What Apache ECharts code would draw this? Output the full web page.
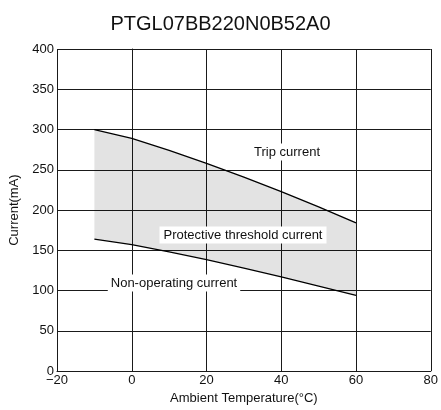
<!DOCTYPE html>
<html>
<head>
<meta charset="utf-8">
<script src="https://cdn.jsdelivr.net/npm/echarts@6/dist/echarts.min.js"></script>
<style>html,body{margin:0;padding:0;background:#fff}#c{width:441px;height:410px}</style>
</head>
<body>
<div id="c"></div>
<script>
var title = 'PTGL07BB220N0B52A0';
var temps = [-10, 0, 10, 20, 30, 40, 50, 60];
var tripCurrent = [300, 289, 274, 258, 241, 223, 204, 184];
var nonOperating = [164, 157, 148, 138.5, 128, 117, 105.5, 94];
var xTicks = [-20, 0, 20, 40, 60, 80];
var yTicks = [0, 50, 100, 150, 200, 250, 300, 350, 400];
var labelTrip = 'Trip current';
var labelBand = 'Protective threshold current';
var labelNon = 'Non-operating current';

var FONT = '"Liberation Sans", Arial, sans-serif';
var chart = echarts.init(document.getElementById('c'), null, {renderer: 'canvas'});

var nonData = temps.map(function (t, i) { return [t, nonOperating[i]]; });
var tripData = temps.map(function (t, i) { return [t, tripCurrent[i]]; });

var gridColor = '#1a1a1a';
chart.setOption({
  animation: false,
  title: {
    text: title, left: 'center', top: 9,
    textStyle: {fontFamily: FONT, fontSize: 20, fontWeight: 'normal', color: '#111'}
  },
  grid: {left: 57, right: 7, top: 49, bottom: 31},
  xAxis: {
    type: 'value', min: xTicks[0], max: xTicks[xTicks.length - 1], interval: 20,
    name: 'Ambient Temperature(°C)', nameLocation: 'middle', nameGap: 17,
    nameTextStyle: {fontFamily: FONT, fontSize: 13, color: '#111'},
    axisLine: {show: true, lineStyle: {color: gridColor, width: 1}},
    axisTick: {show: false},
    axisLabel: {fontFamily: FONT, fontSize: 13, color: '#111', margin: 3,
      formatter: function (v) { return String(v).replace('-', '\u2212'); }},
    splitLine: {show: true, lineStyle: {color: gridColor, width: 1}}
  },
  yAxis: {
    type: 'value', min: yTicks[0], max: yTicks[yTicks.length - 1], interval: 50,
    name: 'Current(mA)', nameLocation: 'middle', nameGap: 36,
    nameTextStyle: {fontFamily: FONT, fontSize: 13, color: '#111'},
    axisLine: {show: true, lineStyle: {color: gridColor, width: 1}},
    axisTick: {show: false},
    axisLabel: {fontFamily: FONT, fontSize: 13, color: '#111', margin: 3},
    splitLine: {show: true, lineStyle: {color: gridColor, width: 1}}
  },
  series: [
    {
      type: 'custom', name: 'band', data: [0], z: 1, silent: true,
      renderItem: function (params, api) {
        var pts = [];
        for (var i = 0; i < temps.length; i++) pts.push(api.coord([temps[i], tripCurrent[i]]));
        for (var j = temps.length - 1; j >= 0; j--) pts.push(api.coord([temps[j], nonOperating[j]]));
        return {type: 'polygon', shape: {points: pts}, style: {fill: 'rgba(0,0,0,0.11)'}};
      }
    },
    {
      type: 'line', name: 'Non-operating current', data: nonData,
      symbol: 'none', lineStyle: {color: '#000', width: 1.3}, z: 3
    },
    {
      type: 'line', name: 'Trip current', data: tripData,
      symbol: 'none', lineStyle: {color: '#000', width: 1.3}, z: 3
    }
  ],
  graphic: [
    {type: 'text', x: 287, y: 152, z: 10, style: {text: labelTrip, font: '13px ' + FONT, fill: '#111',
      align: 'center', verticalAlign: 'middle', backgroundColor: '#fff', padding: [2, 3]}},
    {type: 'text', x: 243, y: 235, z: 10, style: {text: labelBand, font: '13px ' + FONT, fill: '#111',
      align: 'center', verticalAlign: 'middle', backgroundColor: '#fff', padding: [2, 4]}},
    {type: 'text', x: 174, y: 283, z: 10, style: {text: labelNon, font: '13px ' + FONT, fill: '#111',
      align: 'center', verticalAlign: 'middle', backgroundColor: '#fff', padding: [2, 3]}}
  ]
});
</script>
</body>
</html>
